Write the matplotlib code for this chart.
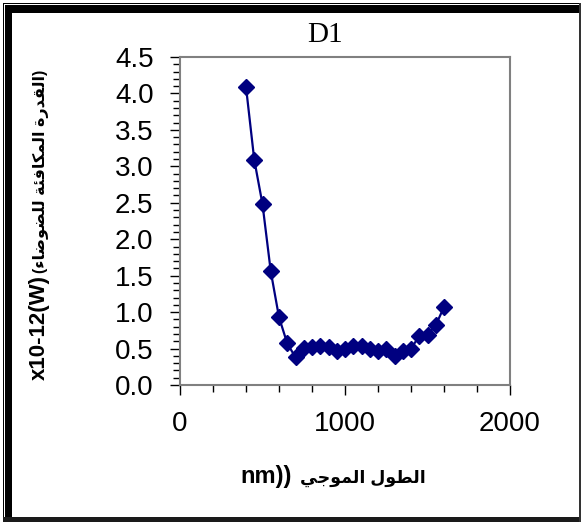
import matplotlib
matplotlib.use("Agg")
import matplotlib.pyplot as plt
from matplotlib.patches import Rectangle
from matplotlib.ticker import MultipleLocator, FormatStrFormatter

# wavelength (nm) and noise equivalent power (x10-12 W)
WAVELENGTH = [400, 450, 500, 550, 600, 650, 700, 750, 800, 850, 900, 950, 1000,
              1050, 1100, 1150, 1200, 1250, 1300, 1350, 1400, 1450, 1500, 1550, 1600]
NEP = [4.09, 3.09, 2.48, 1.56, 0.93, 0.57, 0.38, 0.51, 0.52, 0.53, 0.52, 0.46, 0.50,
       0.54, 0.53, 0.50, 0.47, 0.50, 0.40, 0.46, 0.50, 0.67, 0.69, 0.82, 1.07]

TITLE = "D1"
X_TICKS = [0, 1000, 2000]
Y_TICKS = [0.0, 0.5, 1.0, 1.5, 2.0, 2.5, 3.0, 3.5, 4.0, 4.5]

# Arabic words, already shaped (presentation forms) and in visual order
AR_QUDRA = "\uFE93\uFEAD\uFEAA\uFED8\uFEDF\uFE8D"                # القدرة
AR_MUKAFIA = "\uFE94\uFE8C\uFED3\uFE8E\uFEDC\uFEE4\uFEDF\uFE8D"  # المكافئة
AR_DAWDA = "\uFE80\uFE8E\uFEBF\uFEEE\uFEC0\uFEE0\uFEDF"          # للضوضاء
AR_TOOL = "\uFEDD\uFEEE\uFEC4\uFEDF\uFE8D"                      # الطول
AR_MAWJI = "\uFEF2\uFE9F\uFEEE\uFEE4\uFEDF\uFE8D"               # الموجي

YLABEL_UNIT = "x10-12(W)"
YLABEL_AR = "(" + AR_DAWDA + " " + AR_MUKAFIA + " " + AR_QUDRA + ")"
XLABEL_UNIT = "nm))"
XLABEL_AR = AR_MAWJI + " " + AR_TOOL

FONTS = ["Liberation Sans", "DejaVu Sans"]
W, H = 582, 525


def fx(px):
    return px / W


def fy(py):
    return 1 - py / H


fig = plt.figure(figsize=(W / 100, H / 100), dpi=100)
fig.patch.set_facecolor("white")

# frame around the whole chart
frame = [
    (3, 3, 577, 1.2, "black"),     # top thin
    (3, 3, 1.2, 519, "black"),     # left thin
    (5, 5, 575, 8, "black"),       # top thick
    (5, 5, 7, 515, "black"),       # left thick
    (3, 517, 578, 5, "#1a1a1a"),   # bottom
    (578.5, 3, 2, 519, "#333333"), # right
]
for x0, y0, w, h, c in frame:
    fig.patches.append(Rectangle((fx(x0), fy(y0 + h)), w / W, h / H,
                                 transform=fig.transFigure, color=c, lw=0,
                                 zorder=0))

ax = fig.add_axes([fx(180), fy(385), fx(510) - fx(180), fy(57) - fy(385)])
ax.plot(WAVELENGTH, NEP, color="#000080", linewidth=1.6, marker="D",
        markersize=8, markerfacecolor="#000080", markeredgecolor="#000080")

ax.set_xlim(0, 2000)
ax.set_ylim(0, 4.5)
ax.set_xticks(X_TICKS)
ax.set_yticks(Y_TICKS)
ax.xaxis.set_minor_locator(MultipleLocator(200))
ax.yaxis.set_minor_locator(MultipleLocator(0.1))
ax.yaxis.set_major_formatter(FormatStrFormatter("%.1f"))
ax.tick_params(which="major", direction="out", length=7, width=1, color="black",
               labelsize=20, pad=12)
ax.tick_params(which="minor", direction="out", length=5, width=1, color="black")
for lbl in ax.get_xticklabels() + ax.get_yticklabels():
    lbl.set_family(FONTS)

for s in ax.spines.values():
    s.set_color("#808080")
    s.set_linewidth(1.5)

fig.text(fx(325), fy(35), TITLE, ha="center", va="center", fontsize=21,
         family="Liberation Serif")

renderer = fig.canvas.get_renderer()

# y label: latin part at the bottom, arabic part right above it
yunit = fig.text(fx(45), fy(380), YLABEL_UNIT, rotation=90, rotation_mode="anchor",
                 ha="left", va="baseline", fontsize=16, fontweight="bold",
                 family=FONTS)
top = yunit.get_window_extent(renderer).y1
fig.text(fx(45), (top + 2) / H, YLABEL_AR, rotation=90, rotation_mode="anchor",
         ha="left", va="baseline", fontsize=11.5, fontweight="bold", family=FONTS)

# x label: "nm))" on the left, arabic words to its right
fig.text(fx(292), fy(483), XLABEL_UNIT, ha="right", va="baseline",
         fontsize=17, fontweight="bold", family=FONTS)
fig.text(fx(300), fy(483), XLABEL_AR, ha="left", va="baseline",
         fontsize=12.5, fontweight="bold", family=FONTS)

fig.savefig("out.png", dpi=100)
